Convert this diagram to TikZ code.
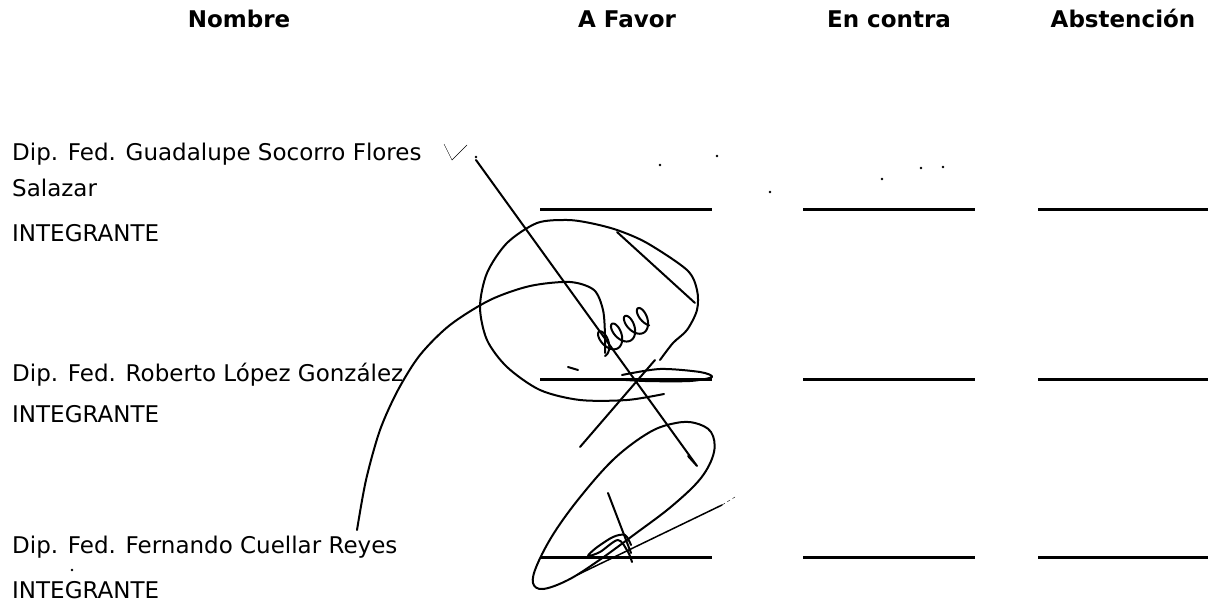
\documentclass[tikz,border=0pt]{standalone}
\usepackage{fontspec}
\setmainfont{DejaVu Sans}

\begin{document}
\begin{tikzpicture}[x=1pt, y=-1pt,
	head/.style={font=\fontsize{23}{28}\selectfont\bfseries, anchor=base, inner sep=0pt},
	txt/.style={font=\fontsize{23}{28}\selectfont, anchor=base west, inner sep=0pt},
	blank/.style={line width=3pt},
	sig/.style={line width=2pt, line cap=round, line join=round}]

	\useasboundingbox (0,0) rectangle (1208,604);

	% HEADERS
	\node[head] (hname) at (239,28) {Nombre};
	\node[head] (hfavor) at (627,28) {A Favor};
	\node[head] (hcontra) at (889,28) {En contra};
	\node[head] (habst) at (1123,28) {Abstención};

	% NAMES
	\node[txt] (nameone) at (12,161) {Dip. Fed. Guadalupe Socorro Flores};
	\node[txt] (nameonb) at (12,197) {Salazar};
	\node[txt] (roleone) at (12,242) {INTEGRANTE};
	\node[txt] (nametwo) at (12,381) {Dip. Fed. Roberto López González};
	\node[txt] (roletwo) at (12,422) {INTEGRANTE};
	\node[txt] (namethree) at (12,553) {Dip. Fed. Fernando Cuellar Reyes};
	\node[txt] (rolethree) at (12,598) {INTEGRANTE};

	% BLANKS
	\foreach \y in {210,379,557}{
		\foreach \xa/\xb in {540/712,803/975,1038/1208}{
			\draw[blank] (\xa,\y) -- (\xb,\y);
		}
	}

	% SPECKS
	\foreach \p in {(476,157),(717,156),(770,192),(882,179),(921,168),(943,167),(660,165),(72,570)}{
		\fill \p circle (1.3);
	}

	% SIGNATURE ONE
	\draw[thin] (444,144) -- (452,160) -- (467,145);
	\draw[sig] (476,160) -- (697,466) -- (688,456);
	\draw[sig] plot[smooth] coordinates {(660,360) (673,343) (687,330) (697,310) (697,290)
		(687,270) (647,243) (617,230) (590,223) (567,220) (537,223) (507,243) (487,273)
		(480,307) (487,340) (507,367) (540,390) (580,400) (627,400) (664,394)};
	\draw[sig] (617,232) -- (695,303);
	\draw[sig] plot[smooth] coordinates {(357,530) (366,480) (380,430) (398,390) (420,355)
		(450,325) (490,300) (530,286) (570,282) (594,290) (603,310) (605,335) (605,353)};
	\draw[sig, shift={(605,356)}, rotate=31] plot[domain=3.14:27.5, samples=140, smooth]
		({2.4*\x - 7*sin(\x r) - 7.5}, {-12 - 12*cos(\x r)});
	\draw[sig] plot[smooth] coordinates {(622,375) (660,369) (700,372) (712,377) (690,381)
		(645,381) (612,379)};
	\draw[sig] (568,367) -- (578,370);
	\draw[sig] (655,360) -- (580,447);

	% SIGNATURE TWO
	\draw[sig] plot[smooth cycle, tension=0.6] coordinates {(695,423) (711,432) (714,452)
		(701,478) (672,506) (635,534) (598,561) (568,580) (543,589) (533,583) (537,565)
		(554,533) (581,496) (615,458) (650,432) (676,423)};
	\draw[thin, dashed] (735,497) -- (722,505);
	\draw[sig, line width=1.5pt] (722,505) -- (577,575);
	\draw[sig] (608,493) -- (631,553);
	\draw[sig] plot[smooth] coordinates {(631,545) (625,535) (613,537) (596,548) (588,556)
		(600,552) (618,540) (628,552) (632,562)};

\end{tikzpicture}
\end{document}
